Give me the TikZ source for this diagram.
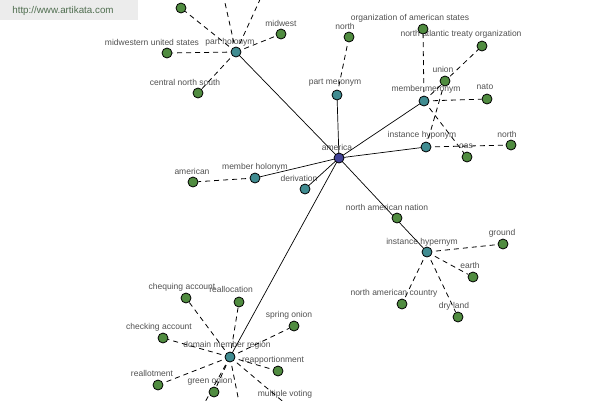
\documentclass[tikz,border=0pt]{standalone}
\usepackage{fontspec}
\setmainfont{Liberation Sans}
\usepackage{xcolor}
\usetikzlibrary{backgrounds}
\definecolor{leafgreen}{RGB}{80,140,64}
\definecolor{relteal}{RGB}{64,140,145}
\definecolor{hubblue}{RGB}{66,66,150}
\definecolor{labelgray}{RGB}{80,80,80}
\definecolor{marktext}{RGB}{80,110,80}
\definecolor{markbox}{RGB}{236,236,236}

\begin{document}
\begin{tikzpicture}[
                x=1pt, y=-1pt,
                every node/.style={font=\fontsize{8.5}{10}\selectfont},
                dot/.style={circle, draw, line width=0.8pt, inner sep=0pt, minimum size=10pt},
                leaf/.style={dot, fill=leafgreen},
                rel/.style={dot, fill=relteal},
                lbl/.style={text=labelgray, inner sep=0pt},
                link/.style={draw, line width=0.7pt},
                dlink/.style={draw, line width=0.8pt, dash pattern=on 5pt off 4pt}
            ]
            \useasboundingbox (0,0) rectangle (600,400);
            \clip (0,0) rectangle (600,400);

            % Watermark
            \fill[markbox] (0,0) rectangle (138,20);
            \node[text=marktext, inner sep=0pt, font=\fontsize{9.8}{11}\selectfont] (mark) at (63,11) {http://www.artikata.com};

            % Nodes
            \node [fill=hubblue] (america) at (339,158) [dot] {};
            \node (partholonym) at (236,52) [rel] {};
            \node (partmeronym) at (337,95) [rel] {};
            \node (membermeronym) at (424,101) [rel] {};
            \node (instancehyponym) at (426,147) [rel] {};
            \node (memberholonym) at (255,178) [rel] {};
            \node (derivation) at (305,189) [rel] {};
            \node (instancehypernym) at (427,252) [rel] {};
            \node (domainregion) at (230,357) [rel] {};

            \node (midwesternus) at (167,53) [leaf] {};
            \node (midwest) at (281,34) [leaf] {};
            \node (centralns) at (198,93) [leaf] {};
            \node (phtop) at (181,8) [leaf] {};
            \node (northa) at (349,37) [leaf] {};
            \node (oasorg) at (423,29) [leaf] {};
            \node (natoorg) at (482,46) [leaf] {};
            \node (union) at (445,81) [leaf] {};
            \node (nato) at (487,99) [leaf] {};
            \node (oas) at (467,157) [leaf] {};
            \node (northb) at (511,145) [leaf] {};
            \node (american) at (193,182) [leaf] {};
            \node (nanation) at (397,218) [leaf] {};
            \node (ground) at (503,244) [leaf] {};
            \node (earth) at (473,277) [leaf] {};
            \node (nacountry) at (402,304) [leaf] {};
            \node (dryland) at (458,317) [leaf] {};
            \node (chequing) at (186,298) [leaf] {};
            \node (reallocation) at (239,302) [leaf] {};
            \node (springonion) at (294,326) [leaf] {};
            \node (checking) at (163,338) [leaf] {};
            \node (reapportion) at (278,371) [leaf] {};
            \node (reallotment) at (158,385) [leaf] {};
            \node (greenonion) at (214,392) [leaf] {};
            \node (multvoting) at (293,410) [leaf] {};

            % off the frame
            \coordinate (phup1) at (221,-15);
            \coordinate (phup2) at (268,-18);
            \coordinate (dmdown1) at (199,413);
            \coordinate (dmdown2) at (241,412);

            \begin{scope}[on background layer]
            % Labels
            \node[lbl] (l_america) at (337,147) {america};
            \node[lbl] (l_partholonym) at (230,42) {part holonym};
            \node[lbl] (l_partmeronym) at (335,83) {part meronym};
            \node[lbl] (l_membermeronym) at (426,89) {member meronym};
            \node[lbl] (l_instancehyponym) at (422,135) {instance hyponym};
            \node[lbl] (l_memberholonym) at (255,167) {member holonym};
            \node[lbl] (l_derivation) at (299,178) {derivation};
            \node[lbl] (l_instancehypernym) at (422,242) {instance hypernym};
            \node[lbl] (l_domainregion) at (227,345) {domain member region};

            \node[lbl] (l_midwesternus) at (152,42) {midwestern united states};
            \node[lbl] (l_midwest) at (281,23) {midwest};
            \node[lbl] (l_centralns) at (185,82) {central north south};
            \node[lbl] (l_northa) at (345,26) {north};
            \node[lbl] (l_oasorg) at (410,18) {organization of american states};
            \node[lbl] (l_natoorg) at (461,34) {north atlantic treaty organization};
            \node[lbl] (l_union) at (443,69) {union};
            \node[lbl] (l_nato) at (485,87) {nato};
            \node[lbl] (l_oas) at (466,146) {oas};
            \node[lbl] (l_northb) at (507,134) {north};
            \node[lbl] (l_american) at (192,171) {american};
            \node[lbl] (l_nanation) at (387,207) {north american nation};
            \node[lbl] (l_ground) at (502,233) {ground};
            \node[lbl] (l_earth) at (470,265) {earth};
            \node[lbl] (l_nacountry) at (394,293) {north american country};
            \node[lbl] (l_dryland) at (454,306) {dry land};
            \node[lbl] (l_chequing) at (182,287) {chequing account};
            \node[lbl] (l_reallocation) at (231,289) {reallocation};
            \node[lbl] (l_springonion) at (289,315) {spring onion};
            \node[lbl] (l_checking) at (159,327) {checking account};
            \node[lbl] (l_reapportion) at (273,360) {reapportionment};
            \node[lbl] (l_reallotment) at (152,373) {reallotment};
            \node[lbl] (l_greenonion) at (210,381) {green onion};
            \node[lbl] (l_multvoting) at (285,394) {multiple voting};

            % Links
            \foreach \r in {partholonym,partmeronym,membermeronym,instancehyponym,
                            memberholonym,derivation,instancehypernym,domainregion}
                \draw[link] (america.center) -- (\r.center);

            \foreach \a/\b in {partholonym/midwesternus, partholonym/midwest,
                               partholonym/centralns, partholonym/phtop,
                               partholonym/phup1, partholonym/phup2,
                               partmeronym/northa,
                               membermeronym/oasorg, membermeronym/natoorg,
                               membermeronym/nato, membermeronym/oas,
                               instancehyponym/union, instancehyponym/northb,
                               memberholonym/american,
                               instancehypernym/ground, instancehypernym/earth,
                               instancehypernym/nacountry, instancehypernym/dryland,
                               domainregion/chequing, domainregion/reallocation,
                               domainregion/springonion, domainregion/checking,
                               domainregion/reapportion, domainregion/reallotment,
                               domainregion/greenonion, domainregion/multvoting,
                               domainregion/dmdown1, domainregion/dmdown2}
                \draw[dlink] (\a.center) -- (\b);
            \end{scope}

            \end{tikzpicture}
\end{document}
